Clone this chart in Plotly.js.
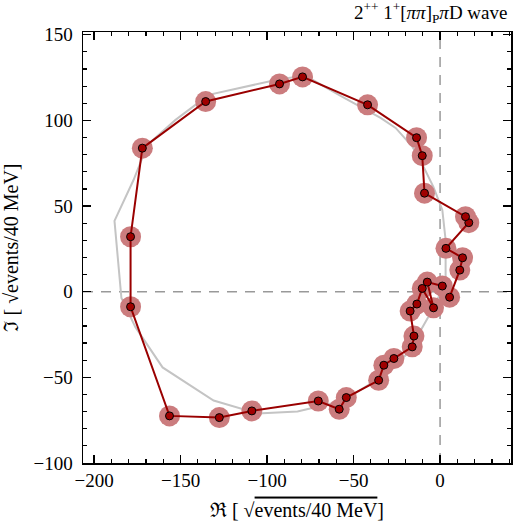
<!DOCTYPE html>
<html>
<head>
<meta charset="utf-8">
<script src="https://cdn.plot.ly/plotly-3.0.1.min.js"></script>
<style>html,body{margin:0;padding:0;background:#fff}#chart{width:513px;height:525px}</style>
</head>
<body>
<div id="chart"></div>
<script>
// Measured (data) points: real and imaginary parts
const dataRe = [5.5, 11.4, 13.0, 3.4, 16.6, 14.7, -9.0, -10.3, -13.6, -41.9, -79.5, -92.8, -135.5, -172.1, -178.9, -178.9, -156.4, -127.6, -108.8, -70.4, -58.3, -54.2, -35.5, -32.5, -26.7, -16.1, -15.1, -17.3, -13.4, -10.3, -3.8, -7.4, 1.3];
const dataIm = [-3.2, 12.6, 19.8, 25.3, 40.3, 43.8, 57.5, 79.4, 89.9, 109.1, 125.4, 121.3, 111.0, 83.8, 32.1, -8.8, -72.5, -73.5, -69.6, -63.8, -68.6, -61.8, -51.7, -42.9, -39.0, -32.2, -25.9, -11.3, -7.2, 1.9, -9.4, 5.6, 3.3];

// Model curve
const modelRe = [0.3, 3.2, 3.2, 1.3, -0.9, -3.8, -9.5, -15.9, -25.7, -34.4, -57.5, -77.7, -92.2, -115.3, -133.8, -152.9, -169.1, -177.2, -188.2, -184.2, -176.1, -160.4, -130.9, -105.5, -82.4, -55.8, -34.5, -18.8, -11.3, -5.5, 0.3];
const modelIm = [-0.8, 8.5, 30.2, 47.7, 53.5, 61.1, 72.8, 84.5, 95.6, 101.5, 114.3, 126.0, 124.2, 118.9, 114.9, 100.3, 85.7, 65.2, 41.3, -3.7, -20.7, -44.2, -63.5, -71.1, -69.9, -63.5, -50.1, -36.1, -22.4, -12.5, -0.8];

const xTickVals = [-200, -150, -100, -50, 0];
const yTickVals = [-100, -50, 0, 50, 100, 150];

const serif = 'Liberation Serif, DejaVu Serif, serif';

const traces = [
  {x: modelRe, y: modelIm, mode: 'lines', line: {color: '#c4c4c4', width: 2}, hoverinfo: 'skip'},
  {x: dataRe, y: dataIm, mode: 'markers', marker: {size: 21, color: '#cb7c7e', line: {width: 0}}, hoverinfo: 'skip'},
  {x: dataRe, y: dataIm, mode: 'lines+markers', line: {color: '#9a0000', width: 2},
   marker: {size: 8, color: '#a00000', line: {color: '#000', width: 1}}}
];

const axisCommon = {
  showgrid: false, zeroline: false, showline: true, linecolor: '#000', linewidth: 1.5,
  mirror: 'ticks', ticks: 'inside', ticklen: 8, tickwidth: 1.5, tickcolor: '#000',
  tickfont: {family: serif, size: 19, color: '#000'},
  minor: {dtick: 10, ticks: 'inside', ticklen: 4, tickwidth: 1.2, tickcolor: '#000'}
};

const titleText = (sym) => sym + ' [ \u221A<span style="text-decoration:overline">events/40 MeV</span>]';

const layout = {
  width: 513, height: 525,
  margin: {l: 82.5, r: 2.3, t: 32.3, b: 62.3},
  paper_bgcolor: '#fff', plot_bgcolor: '#fff',
  showlegend: false,
  xaxis: Object.assign({}, axisCommon, {
    range: [-206.4, 41], tickvals: xTickVals, ticktext: xTickVals.map(v => v < 0 ? '\u2212' + Math.abs(v) : String(v)),
    title: {text: titleText('\u211C'), font: {family: serif, size: 20, color: '#000'}, standoff: 12}
  }),
  yaxis: Object.assign({}, axisCommon, {
    range: [-100, 151.6], tickvals: yTickVals, ticktext: yTickVals.map(v => v < 0 ? '\u2212' + Math.abs(v) : String(v)),
    ticklabelstandoff: 5,
    title: {text: titleText('\u2111'), font: {family: serif, size: 20, color: '#000'}, standoff: 14}
  }),
  shapes: [
    {type: 'line', xref: 'x', yref: 'paper', x0: 0, x1: 0, y0: 0, y1: 1, line: {color: '#999', width: 1.5, dash: '10px,8px'}, layer: 'below'},
    {type: 'line', xref: 'paper', yref: 'y', x0: 0, x1: 1, y0: 0, y1: 0, line: {color: '#999', width: 1.5, dash: '10px,8px'}, layer: 'below'}
  ],
  annotations: [
    {xref: 'paper', yref: 'paper', x: 1, y: 1, xanchor: 'right', yanchor: 'bottom', yshift: 4, xshift: -2, showarrow: false,
     text: '2<sup>++</sup> 1<sup>+</sup>[<i>\u03C0\u03C0</i>]<sub>P</sub><i>\u03C0</i>D wave', font: {family: serif, size: 19, color: '#000'}}
  ]
};

Plotly.newPlot('chart', traces, layout, {staticPlot: true, displayModeBar: false});
</script>
</body>
</html>
